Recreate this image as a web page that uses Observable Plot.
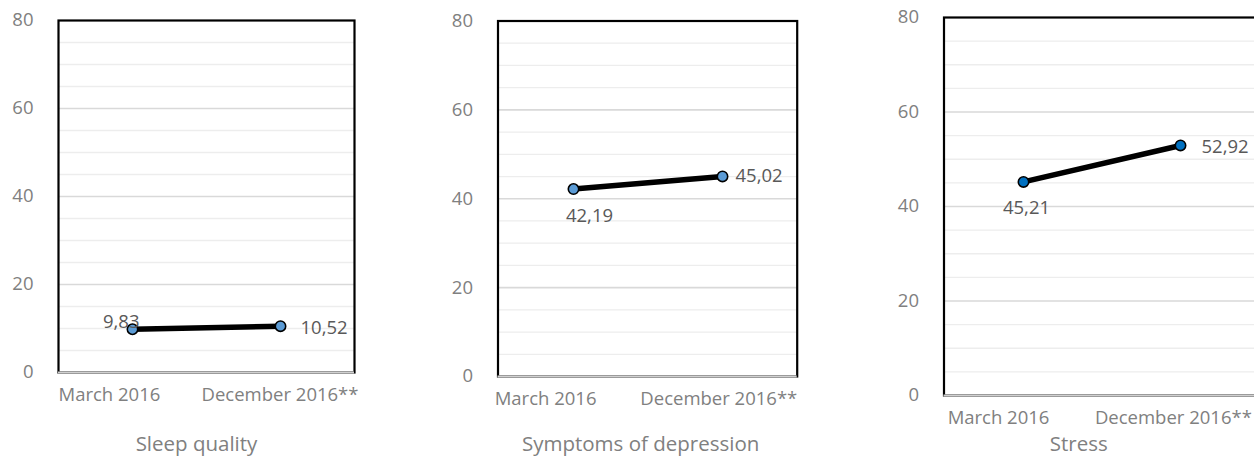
<!DOCTYPE html>
<html><head><meta charset="utf-8">
<script src="https://cdn.jsdelivr.net/npm/d3@7"></script>
<script src="https://cdn.jsdelivr.net/npm/@observablehq/plot@0.6"></script>
<style>
html,body{margin:0;padding:0;background:#fff;overflow:hidden;}
#wrap{position:relative;width:1254px;height:456px;overflow:hidden;}
.panel{position:absolute;top:0;}
</style></head><body><div id="wrap"></div>
<script>
const categories = ["March 2016", "December 2016**"];
const panelTitles = ["Sleep quality", "Symptoms of depression", "Stress"];
const sleepQuality = [9.83, 10.52];
const depression = [42.19, 45.02];
const stress = [45.21, 52.92];
const yTicks = [0, 20, 40, 60, 80];
const yMinor = [5, 10, 15, 25, 30, 35, 45, 50, 55, 65, 70, 75];
const yMajor = [20, 40, 60];

const seriesList = [sleepQuality, depression, stress];
const fmt = v => v.toFixed(2).replace(".", ",");

const layouts = [
  {left: 0, width: 420, ml: 58, mr: 66, mt: 20, mb: 84, fill: "#5b9bd5", decEnd: 4, marStart: 0,
   labels: [{anchor: "end", dx: 7, dy: -7}, {anchor: "start", dx: 20, dy: 2}], titleDx: -10},
  {left: 420, width: 420, ml: 77.5, mr: 43.3, mt: 20.5, mb: 80, fill: "#5b9bd5", decEnd: 0, marStart: -4,
   labels: [{anchor: "middle", dx: 16, dy: 27}, {anchor: "start", dx: 13, dy: 0}], titleDx: -7},
  {left: 840, width: 420, ml: 103.5, mr: 1, mt: 17, mb: 61, fill: "#0070c0", decEnd: -7.5, marStart: 3,
   labels: [{anchor: "middle", dx: 3, dy: 26}, {anchor: "start", dx: 21, dy: 2}], titleDx: -23}
];

const H = 456;
const tickColor = "#808080";
const labelColor = "#595959";
const FS = 18.5;
const TFS = 20.5;

layouts.forEach((L, i) => {
  const data = categories.map((c, j) => ({cat: c, value: seriesList[i][j]}));
  const q = (L.width - L.ml - L.mr) / 4;
  const labelMarks = data.map((d, j) => Plot.text([d], {
    x: "cat", y: "value", text: r => fmt(r.value),
    textAnchor: L.labels[j].anchor, dx: L.labels[j].dx, dy: L.labels[j].dy,
    fill: labelColor, fontSize: FS
  }));
  const chart = Plot.plot({
    width: L.width, height: H,
    marginLeft: L.ml, marginRight: L.mr, marginTop: L.mt, marginBottom: L.mb,
    style: {fontFamily: "'Open Sans', sans-serif", fontSize: FS + "px", background: "white", overflow: "visible"},
    x: {type: "point", domain: categories, padding: 0.5, label: null},
    y: {domain: [0, 80], label: null},
    marks: [
      Plot.ruleY(yMinor, {stroke: "#ededed", strokeWidth: 1.3}),
      Plot.ruleY(yMajor, {stroke: "#d9d9d9", strokeWidth: 1.6}),
      Plot.frame({stroke: "#000", strokeWidth: 2.2}),
      Plot.ruleY([0], {stroke: "#d0d0d0", strokeWidth: 2}),
      Plot.axisY(yTicks, {tickSize: 0, tickPadding: 25, fill: tickColor, fontSize: FS, label: null}),
      Plot.axisX([categories[0]], {tickSize: 0, tickPadding: 15, textAnchor: "start", dx: -q + L.marStart, fill: tickColor, fontSize: FS, label: null}),
      Plot.axisX([categories[1]], {tickSize: 0, tickPadding: 15, textAnchor: "end", dx: q + L.decEnd, fill: tickColor, fontSize: FS, label: null}),
      Plot.text([panelTitles[i]], {frameAnchor: "bottom", text: d => d, dx: L.titleDx, dy: L.mb - 6, fill: tickColor, fontSize: TFS}),
      Plot.line(data, {x: "cat", y: "value", stroke: "#000", strokeWidth: 5.5}),
      Plot.dot(data, {x: "cat", y: "value", r: 5.2, fill: L.fill, stroke: "#000", strokeWidth: 1.6}),
      ...labelMarks
    ]
  });
  chart.classList.add("panel");
  chart.style.left = L.left + "px";
  document.getElementById("wrap").appendChild(chart);
});
</script></body></html>
